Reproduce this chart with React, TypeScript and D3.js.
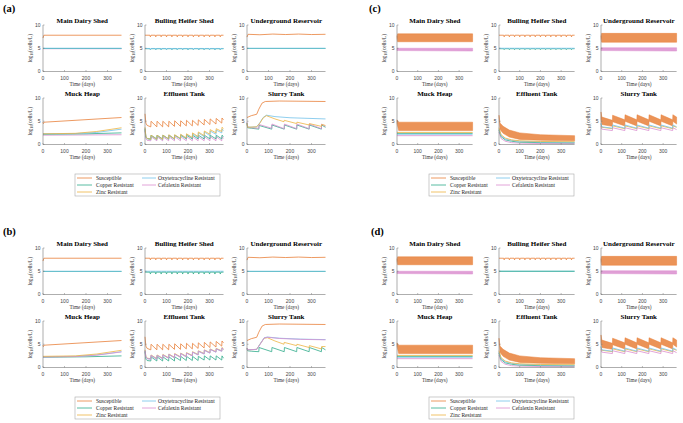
import React from "react";
import * as d3 from "d3";

type Pt = [number, number];

// series colours
const colors: Record<string, string> = {
  sus: "#E8803A",
  cu: "#2FAB8A",
  zn: "#EDB443",
  oxy: "#72C2EA",
  cef: "#DA8ECF",
};

const legendLeft = [
  ["sus", "Susceptible"],
  ["cu", "Copper Resistant"],
  ["zn", "Zinc Resistant"],
];
const legendRight = [
  ["oxy", "Oxytetracycline Resistant"],
  ["cef", "Cefalexin Resistant"],
];

const titles = [
  "Main Dairy Shed",
  "Bulling Heifer Shed",
  "Underground Reservoir",
  "Muck Heap",
  "Effluent Tank",
  "Slurry Tank",
];

// times of the periodic events
const effluentSpikes = [27, 55, 82, 110, 137, 165, 192, 220, 247, 275, 302, 330, 357];
const slurrySpikes = [55, 115, 173, 231, 289, 346];
const heiferDips = [25, 50, 75, 100, 125, 150, 175, 200, 225, 250, 275, 300, 325, 350];

// value jumps lo -> hi at each spike time, then decays to the next lo
function saw(head: Pt[], t: number[], lo: number[], hi: number[], end: number): Pt[] {
  const pts: Pt[] = [...head];
  t.forEach((ti, i) => {
    pts.push([ti, lo[i]], [ti + 1, hi[i]]);
  });
  pts.push([365, end]);
  return pts;
}

// flat level with short dips at heiferDips
function dips(level: number, bottom: number): Pt[] {
  const pts: Pt[] = [[0, level]];
  heiferDips.forEach((t) => pts.push([t - 2, level], [t, bottom], [t + 3, level]));
  pts.push([365, level]);
  return pts;
}

// ---------- (a) ----------
const a_mds_sus: Pt[] = [[0, 7.2], [4, 7.8], [365, 7.8]];
const a_mds_cef: Pt[] = [[0, 4.9], [365, 4.9]];
const a_mds_cu: Pt[] = [[0, 4.95], [365, 4.95]];
const a_mds_oxy: Pt[] = [[0, 5.0], [365, 5.0]];
const a_bhs_sus = dips(7.8, 7.45);
const a_bhs_cu = dips(4.9, 4.7);
const a_bhs_oxy = dips(4.95, 4.65);
const a_ur_sus: Pt[] = [[0, 7.4], [5, 8.0], [60, 7.9], [120, 8.05], [180, 7.95], [240, 8.05], [300, 7.95], [365, 8.0]];
const a_ur_cu: Pt[] = [[0, 4.95], [365, 4.95]];
const a_ur_oxy: Pt[] = [[0, 5.0], [365, 5.0]];
const a_mh_sus: Pt[] = [[0, 4.8], [2, 4.5], [6, 4.8], [365, 5.8]];
const a_mh_cef: Pt[] = [[0, 2.0], [365, 2.1]];
const a_mh_cu: Pt[] = [[0, 2.2], [200, 2.3], [365, 2.5]];
const a_mh_oxy: Pt[] = [[0, 2.3], [150, 2.35], [250, 2.6], [365, 3.3]];
const a_mh_zn: Pt[] = [[0, 2.3], [150, 2.4], [250, 2.8], [365, 3.6]];
const a_et_sus = saw([[0, 6.6], [4, 4.6], [10, 4.1]], effluentSpikes,
  [3.8, 3.8, 3.8, 3.8, 3.9, 3.9, 4.0, 4.0, 4.1, 4.2, 4.3, 4.4, 4.6],
  [5.0, 5.0, 5.0, 5.0, 5.1, 5.1, 5.2, 5.2, 5.3, 5.4, 5.5, 5.6, 5.7], 5.3);
const a_et_zn = saw([[0, 3.7], [4, 1.8], [10, 1.3]], effluentSpikes,
  [1.1, 1.1, 1.1, 1.2, 1.2, 1.3, 1.4, 1.5, 1.7, 1.9, 2.2, 2.5, 2.8],
  [2.0, 2.0, 2.0, 2.1, 2.1, 2.2, 2.3, 2.5, 2.7, 2.9, 3.2, 3.4, 3.7], 3.4);
const a_et_oxy = saw([[0, 3.5], [4, 1.7], [10, 1.2]], effluentSpikes,
  [1.0, 1.0, 1.0, 1.1, 1.1, 1.2, 1.3, 1.4, 1.5, 1.7, 1.9, 2.2, 2.5],
  [1.9, 1.9, 1.9, 2.0, 2.0, 2.1, 2.2, 2.3, 2.5, 2.7, 2.9, 3.1, 3.3], 3.0);
const a_et_cu = saw([[0, 3.3], [4, 1.6], [10, 1.3]], effluentSpikes,
  [1.2, 1.2, 1.2, 1.2, 1.2, 1.2, 1.2, 1.2, 1.2, 1.2, 1.2, 1.2, 1.2],
  [2.0, 2.0, 2.0, 2.0, 2.0, 2.0, 2.0, 2.0, 2.0, 2.0, 2.0, 2.0, 2.0], 1.7);
const a_et_cef = saw([[0, 3.0], [4, 1.3], [10, 0.9]], effluentSpikes,
  [0.8, 0.8, 0.8, 0.8, 0.8, 0.8, 0.8, 0.8, 0.8, 0.8, 0.8, 0.8, 0.8],
  [1.7, 1.7, 1.7, 1.7, 1.7, 1.7, 1.7, 1.7, 1.7, 1.7, 1.7, 1.7, 1.7], 1.3);
const a_st_sus: Pt[] = [[0, 5.8], [20, 6.2], [45, 6.5], [55, 7.6], [70, 8.9], [85, 9.25], [150, 9.35], [365, 9.25]];
const a_st_oxy: Pt[] = [[0, 4.6], [3, 3.7], [45, 3.8], [60, 4.7], [75, 5.8], [90, 6.3], [130, 6.0], [200, 5.75], [365, 5.5]];
const a_st_zn: Pt[] = [[0, 4.6], [3, 3.7], [45, 3.8], [60, 4.6], [75, 5.7], [90, 6.2], [130, 5.5], [172, 4.9], [173, 5.2],
  [231, 4.5], [232, 4.8], [289, 4.2], [290, 4.5], [346, 3.9], [347, 4.3], [365, 4.1]];
const a_st_cef = saw([[0, 4.8], [3, 3.8], [20, 3.6]], slurrySpikes,
  [3.5, 3.5, 3.4, 3.4, 3.4, 3.4], [4.3, 4.4, 4.4, 4.4, 4.4, 4.4], 3.9);
const a_st_cu = saw([[0, 4.6], [3, 3.6], [20, 3.5]], slurrySpikes,
  [3.3, 3.3, 3.3, 3.3, 3.3, 3.3], [4.1, 4.2, 4.2, 4.2, 4.2, 4.2], 3.7);

// ---------- (b) ----------
const b_bhs_sus = dips(7.8, 7.45);
const b_bhs_cu = dips(4.8, 4.4);
const b_bhs_oxy: Pt[] = [[0, 5.0], [365, 5.0]];
const b_mh_zn: Pt[] = [[0, 2.4], [150, 2.5], [250, 2.9], [365, 3.7]];
const b_mh_oxy: Pt[] = [[0, 2.3], [150, 2.4], [250, 2.7], [365, 3.4]];
const b_mh_cef: Pt[] = [[0, 2.25], [150, 2.35], [250, 2.65], [365, 3.35]];
const b_et_zn = saw([[0, 3.8], [4, 2.4], [10, 2.0]], effluentSpikes,
  [1.9, 1.9, 2.0, 2.1, 2.2, 2.3, 2.4, 2.6, 2.8, 3.0, 3.2, 3.4, 3.6],
  [2.7, 2.7, 2.8, 2.9, 3.0, 3.1, 3.2, 3.4, 3.6, 3.8, 4.0, 4.1, 4.3], 4.0);
const b_et_oxy = saw([[0, 3.6], [4, 2.3], [10, 1.9]], effluentSpikes,
  [1.8, 1.8, 1.9, 2.0, 2.1, 2.2, 2.3, 2.5, 2.7, 2.9, 3.1, 3.3, 3.5],
  [2.6, 2.6, 2.7, 2.8, 2.9, 3.0, 3.1, 3.3, 3.5, 3.7, 3.9, 4.0, 4.2], 3.9);
const b_et_cu = saw([[0, 3.4], [4, 1.8], [10, 1.5]], effluentSpikes,
  [1.4, 1.4, 1.4, 1.4, 1.4, 1.5, 1.5, 1.5, 1.5, 1.6, 1.6, 1.6, 1.6],
  [2.3, 2.3, 2.3, 2.3, 2.3, 2.4, 2.4, 2.4, 2.4, 2.5, 2.5, 2.5, 2.5], 2.0);
const b_st_oxy: Pt[] = [[0, 4.2], [3, 3.8], [45, 3.9], [60, 5.0], [80, 6.4], [95, 6.55], [150, 6.3], [250, 6.1], [365, 6.0]];
const b_st_cef: Pt[] = [[0, 4.2], [3, 3.8], [45, 3.9], [60, 4.9], [80, 6.35], [95, 6.5], [150, 6.25], [250, 6.05], [365, 5.95]];
const b_st_zn: Pt[] = [[0, 4.2], [3, 3.8], [45, 3.9], [60, 5.0], [80, 6.3], [95, 6.4], [130, 5.7], [172, 5.0], [173, 5.4],
  [231, 4.7], [232, 5.0], [289, 4.3], [290, 4.7], [346, 4.0], [347, 4.5], [365, 4.5]];
const b_st_cu = saw([[0, 4.0], [3, 3.6], [20, 3.5]], slurrySpikes,
  [3.4, 3.4, 3.4, 3.4, 3.4, 3.4], [4.3, 4.3, 4.3, 4.3, 4.3, 4.3], 3.8);

// ---------- (c) ----------
const c_mds_sus_hi: Pt[] = [[0, 7.6], [3, 8.1], [365, 8.1]];
const c_mds_sus_lo: Pt[] = [[0, 7.2], [3, 6.4], [365, 6.4]];
const c_mds_cef_hi: Pt[] = [[0, 5.0], [365, 5.0]];
const c_mds_cef_lo: Pt[] = [[0, 4.5], [365, 4.4]];
const c_ur_sus_hi: Pt[] = [[0, 7.6], [3, 8.2], [365, 8.2]];
const c_ur_sus_lo: Pt[] = [[0, 7.2], [3, 6.3], [365, 6.3]];
const c_ur_cef_hi: Pt[] = [[0, 5.1], [365, 5.1]];
const c_ur_cef_lo: Pt[] = [[0, 4.5], [365, 4.4]];
const c_mh_sus_hi: Pt[] = [[0, 5.3], [8, 4.8], [365, 4.8]];
const c_mh_sus_lo: Pt[] = [[0, 4.6], [8, 3.0], [365, 3.0]];
const c_mh_zn: Pt[] = [[0, 2.6], [365, 2.6]];
const c_mh_cu: Pt[] = [[0, 2.4], [365, 2.4]];
const c_mh_oxy: Pt[] = [[0, 2.2], [365, 2.2]];
const c_mh_cef: Pt[] = [[0, 1.9], [365, 1.9]];
const c_et_sus_hi: Pt[] = [[0, 6.3], [5, 4.6], [20, 3.9], [50, 3.1], [100, 2.5], [200, 2.1], [365, 1.9]];
const c_et_sus_lo: Pt[] = [[0, 5.8], [5, 3.2], [20, 2.4], [50, 1.6], [100, 1.1], [200, 0.9], [365, 0.8]];
const c_et_zn: Pt[] = [[0, 3.6], [10, 2.1], [30, 1.4], [60, 1.0], [100, 0.8], [200, 0.65], [365, 0.6]];
const c_et_oxy: Pt[] = [[0, 3.3], [10, 1.9], [30, 1.2], [60, 0.9], [100, 0.7], [200, 0.55], [365, 0.5]];
const c_et_cu: Pt[] = [[0, 3.1], [10, 1.7], [30, 1.0], [60, 0.7], [100, 0.5], [200, 0.4], [365, 0.35]];
const c_et_cef: Pt[] = [[0, 2.7], [10, 1.3], [30, 0.7], [60, 0.4], [100, 0.3], [200, 0.2], [365, 0.2]];
const c_st_sus_hi = saw([[0, 7.0], [4, 5.9]], slurrySpikes,
  [5.2, 5.3, 5.3, 5.3, 5.3, 5.3], [6.3, 6.4, 6.4, 6.4, 6.4, 6.4], 5.9);
const c_st_sus_lo = saw([[0, 5.5], [4, 4.3]], slurrySpikes,
  [3.9, 4.0, 4.0, 4.0, 4.0, 4.0], [4.9, 5.0, 5.0, 5.0, 5.0, 5.0], 4.4);
const c_st_oxy = saw([[0, 4.6], [4, 3.8]], slurrySpikes,
  [3.5, 3.5, 3.5, 3.5, 3.5, 3.5], [4.2, 4.2, 4.2, 4.2, 4.2, 4.2], 3.8);
const c_st_zn = saw([[0, 4.4], [4, 3.7]], slurrySpikes,
  [3.4, 3.4, 3.4, 3.4, 3.4, 3.4], [4.0, 4.0, 4.0, 4.0, 4.0, 4.0], 3.7);
const c_st_cef = saw([[0, 4.0], [4, 3.3]], slurrySpikes,
  [3.0, 3.0, 3.0, 3.0, 3.0, 3.0], [3.6, 3.6, 3.6, 3.6, 3.6, 3.6], 3.2);

// ---------- (d) ----------
const d_bhs_sus = dips(7.8, 7.45);
const d_bhs_cu: Pt[] = [[0, 5.0], [365, 5.0]];

type Spec = { lines: [string, Pt[]][]; bands?: [string, Pt[], Pt[]][] };

const panelA: Spec[] = [
  { lines: [["cef", a_mds_cef], ["cu", a_mds_cu], ["oxy", a_mds_oxy], ["sus", a_mds_sus]] },
  { lines: [["cu", a_bhs_cu], ["oxy", a_bhs_oxy], ["sus", a_bhs_sus]] },
  { lines: [["cu", a_ur_cu], ["oxy", a_ur_oxy], ["sus", a_ur_sus]] },
  { lines: [["cef", a_mh_cef], ["cu", a_mh_cu], ["oxy", a_mh_oxy], ["zn", a_mh_zn], ["sus", a_mh_sus]] },
  { lines: [["cef", a_et_cef], ["cu", a_et_cu], ["oxy", a_et_oxy], ["zn", a_et_zn], ["sus", a_et_sus]] },
  { lines: [["cu", a_st_cu], ["cef", a_st_cef], ["oxy", a_st_oxy], ["zn", a_st_zn], ["sus", a_st_sus]] },
];
const panelB: Spec[] = [
  { lines: [["cu", a_mds_cu], ["oxy", a_mds_oxy], ["sus", a_mds_sus]] },
  { lines: [["oxy", b_bhs_oxy], ["cu", b_bhs_cu], ["sus", b_bhs_sus]] },
  { lines: [["cu", a_ur_cu], ["oxy", a_ur_oxy], ["sus", a_ur_sus]] },
  { lines: [["cu", a_mh_cu], ["oxy", b_mh_oxy], ["cef", b_mh_cef], ["zn", b_mh_zn], ["sus", a_mh_sus]] },
  { lines: [["cu", b_et_cu], ["zn", b_et_zn], ["oxy", b_et_oxy], ["cef", b_et_oxy], ["sus", a_et_sus]] },
  { lines: [["cu", b_st_cu], ["zn", b_st_zn], ["oxy", b_st_oxy], ["cef", b_st_cef], ["sus", a_st_sus]] },
];
const panelC: Spec[] = [
  { lines: [], bands: [["cef", c_mds_cef_hi, c_mds_cef_lo], ["sus", c_mds_sus_hi, c_mds_sus_lo]] },
  { lines: [["cu", a_bhs_cu], ["oxy", a_mds_oxy], ["sus", a_bhs_sus]] },
  { lines: [], bands: [["cef", c_ur_cef_hi, c_ur_cef_lo], ["sus", c_ur_sus_hi, c_ur_sus_lo]] },
  { lines: [["cef", c_mh_cef], ["oxy", c_mh_oxy], ["cu", c_mh_cu], ["zn", c_mh_zn]], bands: [["sus", c_mh_sus_hi, c_mh_sus_lo]] },
  { lines: [["cef", c_et_cef], ["cu", c_et_cu], ["oxy", c_et_oxy], ["zn", c_et_zn]], bands: [["sus", c_et_sus_hi, c_et_sus_lo]] },
  { lines: [["cef", c_st_cef], ["zn", c_st_zn], ["oxy", c_st_oxy]], bands: [["sus", c_st_sus_hi, c_st_sus_lo]] },
];
const panelD: Spec[] = [
  panelC[0],
  { lines: [["oxy", a_mds_oxy], ["cu", d_bhs_cu], ["sus", d_bhs_sus]] },
  panelC[2],
  panelC[3],
  panelC[4],
  panelC[5],
];

const panels = [
  { id: "(a)", ox: 0, oy: 0, w: 78.5, lx: 3, specs: panelA },
  { id: "(b)", ox: 0, oy: 223, w: 78.5, lx: 3, specs: panelB },
  { id: "(c)", ox: 354, oy: 0, w: 75.6, lx: 15, specs: panelC },
  { id: "(d)", ox: 354, oy: 223, w: 75.6, lx: 17, specs: panelD },
];

const colX = [43, 145, 247];
const rowY = [25, 98];
const plotH = 46.5;
const serif = "Liberation Serif, Times New Roman, serif";
const sans = "Liberation Sans, Arial, sans-serif";

function Subplot({ x0, y0, w, title, spec }: { x0: number; y0: number; w: number; title: string; spec: Spec }) {
  const x = d3.scaleLinear().domain([0, 365]).range([x0, x0 + w]);
  const y = d3.scaleLinear().domain([0, 10]).range([y0 + plotH, y0]);
  const line = d3.line<Pt>().x((d) => x(d[0])).y((d) => y(d[1]));
  const axis = "#777";
  return (
    <g>
      <text x={x0 + w / 2} y={y0 - 1.7} textAnchor="middle" fontFamily={serif} fontWeight="bold" fontSize={7}>
        {title}
      </text>
      {(spec.bands || []).map(([k, hi, lo], i) => (
        <path
          key={"b" + i}
          d={line([...hi, ...[...lo].reverse()]) + "Z"}
          fill={colors[k]}
          fillOpacity={0.85}
          stroke={colors[k]}
          strokeWidth={0.5}
        />
      ))}
      {spec.lines.map(([k, pts], i) => (
        <path key={"l" + i} d={line(pts) || ""} fill="none" stroke={colors[k]} strokeWidth={0.8} />
      ))}
      <line x1={x0} x2={x0 + w} y1={y0 + plotH} y2={y0 + plotH} stroke={axis} strokeWidth={0.6} />
      <line x1={x0} x2={x0} y1={y0} y2={y0 + plotH} stroke={axis} strokeWidth={0.6} />
      {x.ticks(4).map((t) => (
        <g key={"x" + t}>
          <line x1={x(t)} x2={x(t)} y1={y0 + plotH} y2={y0 + plotH - 1.5} stroke={axis} strokeWidth={0.5} />
          <text x={x(t)} y={y0 + plotH + 8.3} textAnchor="middle" fontFamily={sans} fontSize={5} fill="#444">
            {t}
          </text>
        </g>
      ))}
      {y.ticks(2).map((t) => (
        <g key={"y" + t}>
          <line x1={x0} x2={x0 + 1.5} y1={y(t)} y2={y(t)} stroke={axis} strokeWidth={0.5} />
          <text x={x0 - 2.5} y={y(t) + 1.8} textAnchor="end" fontFamily={sans} fontSize={5} fill="#444">
            {t}
          </text>
        </g>
      ))}
      <text x={x0 + w / 2} y={y0 + plotH + 14.5} textAnchor="middle" fontFamily={serif} fontSize={5.3} fill="#333">
        Time (days)
      </text>
      <text
        transform={`translate(${x0 - 11},${y0 + plotH / 2}) rotate(-90)`}
        textAnchor="middle"
        fontFamily={serif}
        fontSize={5.3}
        fill="#333"
      >
        log<tspan fontSize={3.8} dy={1.2}>10</tspan>
        <tspan dy={-1.2}>(cells/L)</tspan>
      </text>
    </g>
  );
}

function Legend({ x, y }: { x: number; y: number }) {
  const rows = [4, 11, 18];
  return (
    <g>
      <rect x={x} y={y} width={145} height={22} fill="white" stroke="#aaa" strokeWidth={0.6} />
      {legendLeft.map(([k, label], i) => (
        <g key={k}>
          <line x1={x + 2} x2={x + 17} y1={y + rows[i]} y2={y + rows[i]} stroke={colors[k]} strokeWidth={0.8} />
          <text x={x + 21} y={y + rows[i] + 1.8} fontFamily={serif} fontSize={5.5} fill="#222">
            {label}
          </text>
        </g>
      ))}
      {legendRight.map(([k, label], i) => (
        <g key={k}>
          <line x1={x + 67} x2={x + 81} y1={y + rows[i]} y2={y + rows[i]} stroke={colors[k]} strokeWidth={0.8} />
          <text x={x + 83} y={y + rows[i] + 1.8} fontFamily={serif} fontSize={5.5} fill="#222">
            {label}
          </text>
        </g>
      ))}
    </g>
  );
}

export default function App() {
  return (
    <svg width={683} height={423} style={{ position: "absolute", left: 0, top: 0, background: "white" }}>
      {panels.map((p) => (
        <g key={p.id} transform={`translate(${p.ox},${p.oy})`}>
          <text x={p.lx} y={11.5} fontFamily={serif} fontWeight="bold" fontSize={10.5}>
            {p.id}
          </text>
          {p.specs.map((spec, i) => (
            <Subplot
              key={i}
              x0={colX[i % 3]}
              y0={rowY[Math.floor(i / 3)]}
              w={p.w}
              title={titles[i]}
              spec={spec}
            />
          ))}
          <Legend x={75} y={174} />
        </g>
      ))}
    </svg>
  );
}
